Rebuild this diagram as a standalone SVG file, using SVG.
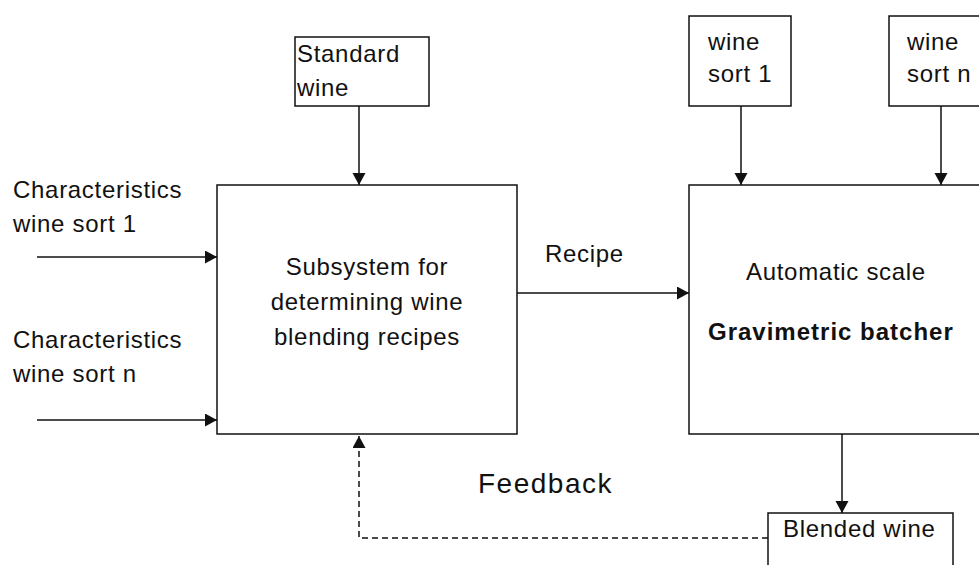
<svg xmlns="http://www.w3.org/2000/svg" width="979" height="565" viewBox="0 0 979 565">
<defs>
<style>
.box{fill:#fff;stroke:#111;stroke-width:1.5}
.t{font-family:"Liberation Sans",Arial,sans-serif;font-size:24px;fill:#111;letter-spacing:0.7px}
.b{font-weight:bold;letter-spacing:1px}
.c{stroke:#111;stroke-width:1.5;fill:none}
.d{stroke-dasharray:6,4}
</style>
<marker id="ah" markerUnits="userSpaceOnUse" markerWidth="14" markerHeight="14" refX="12" refY="6.5" orient="auto">
<path d="M0,0 L12,6.5 L0,13 z" fill="#111"/>
</marker>
</defs>
<rect width="979" height="565" fill="#fff"/>
<g id="connectors">
<line class="c" x1="359" y1="106" x2="359" y2="185" marker-end="url(#ah)"/>
<line class="c" x1="741" y1="106" x2="741" y2="185" marker-end="url(#ah)"/>
<line class="c" x1="941" y1="106" x2="941" y2="185" marker-end="url(#ah)"/>
<line class="c" x1="37" y1="257" x2="217" y2="257" marker-end="url(#ah)"/>
<line class="c" x1="37" y1="420" x2="217" y2="420" marker-end="url(#ah)"/>
<line class="c" x1="517" y1="293" x2="689" y2="293" marker-end="url(#ah)"/>
<line class="c" x1="842" y1="434" x2="842" y2="513" marker-end="url(#ah)"/>
<polyline class="c d" points="768,538 359,538 359,436" marker-end="url(#ah)"/>
</g>
<g id="labels">
<text class="t" x="13" y="198">Characteristics</text>
<text class="t" x="13" y="232">wine sort 1</text>
<text class="t" x="13" y="348">Characteristics</text>
<text class="t" x="13" y="382">wine sort n</text>
<text class="t" x="545" y="262">Recipe</text>
<text class="t" x="478" y="493" style="font-size:28px;letter-spacing:1.5px">Feedback</text>
</g>
<g id="standard-wine">
<rect class="box" x="295" y="37" width="134" height="69"/>
<text class="t" x="297" y="62">Standard</text>
<text class="t" x="297" y="96">wine</text>
</g>
<g id="wine-sort-1">
<rect class="box" x="689" y="16" width="102" height="90"/>
<text class="t" x="708" y="50">wine</text>
<text class="t" x="708" y="82">sort 1</text>
</g>
<g id="wine-sort-n">
<rect class="box" x="889" y="16" width="120" height="90"/>
<text class="t" x="907" y="50">wine</text>
<text class="t" x="907" y="82">sort n</text>
</g>
<g id="subsystem">
<rect class="box" x="217" y="185" width="300" height="249"/>
<text class="t" x="367" y="275" text-anchor="middle">Subsystem for</text>
<text class="t" x="367" y="310" text-anchor="middle">determining wine</text>
<text class="t" x="367" y="345" text-anchor="middle">blending recipes</text>
</g>
<g id="batcher">
<rect class="box" x="689" y="185" width="320" height="249"/>
<text class="t" x="746" y="280">Automatic scale</text>
<text class="t b" x="708" y="340">Gravimetric batcher</text>
</g>
<g id="blended-wine">
<rect class="box" x="768" y="513" width="185" height="70"/>
<text class="t" x="783" y="537">Blended wine</text>
</g>
</svg>
